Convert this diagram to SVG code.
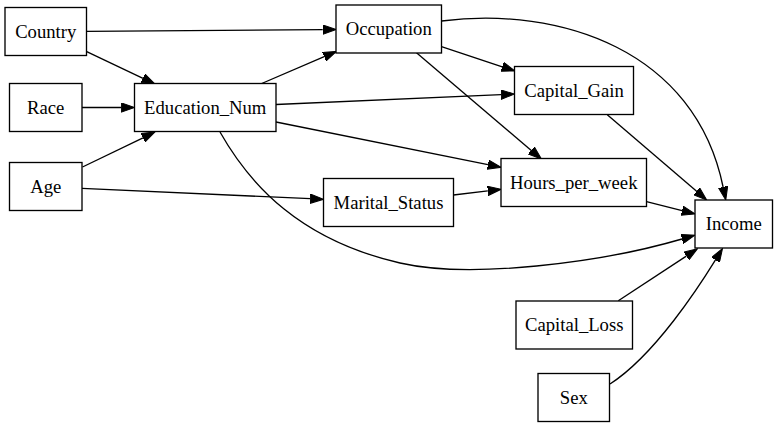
<svg xmlns="http://www.w3.org/2000/svg" width="777" height="427" viewBox="0 0 777 427">
<defs>
<style>
.node rect{fill:#fff;stroke:#000;stroke-width:1.33}
.node text{font-family:"Liberation Serif","Times New Roman",serif;font-size:18.67px;fill:#000;text-anchor:middle}
.edges path{fill:none;stroke:#000;stroke-width:1.33;marker-end:url(#arr)}
</style>
<marker id="arr" markerUnits="userSpaceOnUse" markerWidth="14" markerHeight="10" refX="0" refY="4.67" orient="auto" viewBox="0 0 14 9.34">
<path d="M0,0 L13.33,4.67 L0,9.34 Z" fill="#000" stroke="#000" stroke-width="1"/>
</marker>
</defs>
<rect width="777" height="427" fill="#fff"/>
<g class="edges" id="edges">
<path d="M86.5,31.3 L322.7,29.6"/>
<path d="M86.7,51.7 L143,78.3"/>
<path d="M82,107.5 L121.2,107.5"/>
<path d="M82.5,167 L143,137.8"/>
<path d="M82,188.3 L310.2,198.7"/>
<path d="M261.7,83.5 L324.2,56.7"/>
<path d="M276,104.5 L501.2,94.6"/>
<path d="M276,122 L487.9,164.7"/>
<path d="M220,132 C250,185 300,240 400,263 C470,279 600,263 682,239"/>
<path d="M441.5,46.7 L502.3,66.8"/>
<path d="M416.5,52.7 L531.3,150.4"/>
<path d="M441.5,21 C560,6 695,50 723.1,187"/>
<path d="M453.5,195 L487.8,190.9"/>
<path d="M607.3,114.7 L696.6,191.3"/>
<path d="M646.5,201.7 L682.1,210.7"/>
<path d="M618.3,300.7 L686.3,256.1"/>
<path d="M610,384 C655,355 700,285 715.5,259.9"/>
</g>
<g class="node" id="Country"><rect x="5" y="7.5" width="81.5" height="48"/><text x="45.75" y="37.5">Country</text></g>
<g class="node" id="Race"><rect x="9.5" y="83.5" width="72.5" height="48"/><text x="45.75" y="113.5">Race</text></g>
<g class="node" id="Age"><rect x="9.5" y="162.5" width="72.5" height="48"/><text x="45.75" y="192.5">Age</text></g>
<g class="node" id="Education_Num"><rect x="134.5" y="83.5" width="141.5" height="48"/><text x="205.25" y="113.5">Education_Num</text></g>
<g class="node" id="Occupation"><rect x="336" y="5" width="105.5" height="48"/><text x="388.75" y="35">Occupation</text></g>
<g class="node" id="Marital_Status"><rect x="323.5" y="178.5" width="130" height="48"/><text x="388.5" y="208.5">Marital_Status</text></g>
<g class="node" id="Capital_Gain"><rect x="514.5" y="66.5" width="119" height="48"/><text x="574" y="96.5">Capital_Gain</text></g>
<g class="node" id="Hours_per_week"><rect x="501" y="158.5" width="145.5" height="48"/><text x="573.75" y="188.5">Hours_per_week</text></g>
<g class="node" id="Capital_Loss"><rect x="516" y="301" width="116.5" height="48"/><text x="574.25" y="331">Capital_Loss</text></g>
<g class="node" id="Sex"><rect x="538" y="373.5" width="71.5" height="48"/><text x="573.75" y="403.5">Sex</text></g>
<g class="node" id="Income"><rect x="695" y="200" width="77.5" height="48"/><text x="733.75" y="230">Income</text></g>
</svg>
